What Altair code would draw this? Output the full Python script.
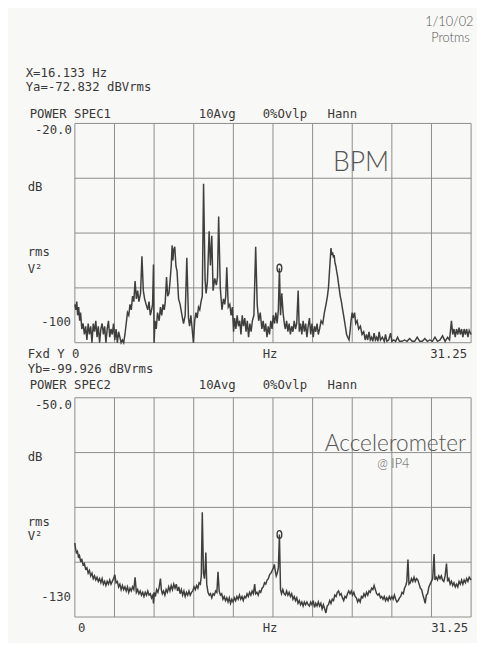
import altair as alt
import pandas as pd

# ---------------- data ----------------
# Top trace: BPM power spectrum (Hz, dBVrms)
bpm_trace = [
    (0.00,-86),(0.08,-88),(0.15,-85),(0.22,-90),(0.30,-87),(0.38,-92),(0.45,-89),(0.55,-95),
    (0.65,-93),(0.75,-97),(0.85,-94),(0.95,-99),(1.05,-93),(1.15,-97),(1.25,-94),(1.35,-100),
    (1.45,-93),(1.55,-96),(1.65,-92),(1.75,-98),(1.85,-94),(1.95,-100),(2.05,-95),(2.15,-93),
    (2.25,-97),(2.35,-94),(2.45,-100),(2.55,-95),(2.65,-92),(2.75,-98),(2.85,-95),(2.95,-97),
    (3.05,-93),(3.15,-99),(3.25,-95),(3.35,-100),(3.45,-96),(3.55,-98),(3.65,-100),(3.75,-99),
    (3.85,-100),(3.95,-97),(4.05,-93),(4.15,-89),(4.25,-90),(4.35,-86),(4.45,-88),(4.55,-83),
    (4.65,-85),(4.75,-77.5),(4.85,-84),(4.95,-81),(5.05,-85),(5.18,-82),(5.29,-68.5),(5.40,-81),
    (5.50,-84),(5.62,-86),(5.75,-88),(5.85,-85),(5.95,-90),(6.05,-88),(6.13,-86),(6.20,-71.5),
    (6.25,-100),(6.32,-92),(6.42,-95),(6.52,-89),(6.65,-92),(6.75,-87),(6.85,-90),(6.95,-86),
    (7.05,-88),(7.13,-85),(7.23,-76),(7.32,-83),(7.42,-82),(7.50,-78),(7.60,-72),(7.67,-64.5),
    (7.73,-70),(7.80,-66),(7.88,-65),(7.97,-72),(8.06,-74),(8.18,-84),(8.30,-86),(8.45,-90),
    (8.57,-93),(8.70,-90),(8.83,-69),(8.96,-91),(9.05,-94),(9.15,-90),(9.25,-95),(9.35,-100),
    (9.45,-92),(9.55,-89),(9.65,-91),(9.75,-87),(9.85,-88),(9.95,-85),(10.05,-83),(10.15,-42),
    (10.27,-77),(10.35,-82),(10.45,-78),(10.59,-59.3),(10.69,-71.8),(10.80,-61),(10.90,-81),
    (11.03,-76.5),(11.16,-79),(11.25,-76),(11.34,-54),(11.47,-80),(11.60,-88),(11.72,-84),
    (11.82,-86),(11.90,-83),(11.98,-72.5),(12.10,-87),(12.22,-86),(12.32,-90),(12.42,-87),
    (12.52,-96),(12.60,-91),(12.70,-95),(12.80,-90),(12.90,-94),(13.00,-92),(13.10,-97),
    (13.20,-90),(13.30,-94),(13.40,-91),(13.50,-96),(13.60,-92),(13.70,-98),(13.80,-93),
    (13.90,-96),(14.00,-92),(14.12,-90),(14.26,-65),(14.38,-86),(14.50,-92),(14.62,-89),
    (14.75,-95),(14.85,-92),(14.95,-96),(15.05,-93),(15.15,-98),(15.25,-94),(15.35,-97),
    (15.45,-92),(15.55,-95),(15.65,-90),(15.75,-93),(15.85,-89),(15.95,-93),(16.05,-88),
    (16.133,-72.8),(16.22,-90),(16.32,-82),(16.42,-89),(16.52,-93),(16.60,-95),(16.70,-92),
    (16.80,-96),(16.90,-93),(17.00,-97),(17.10,-94),(17.20,-96),(17.30,-92),(17.40,-95),
    (17.50,-93),(17.61,-81),(17.70,-96),(17.80,-93),(17.90,-97),(18.00,-92),(18.10,-96),
    (18.20,-93),(18.30,-98),(18.40,-94),(18.50,-91),(18.60,-97),(18.70,-93),(18.80,-98),
    (18.90,-94),(19.00,-96),(19.10,-93),(19.20,-97),(19.30,-95),(19.42,-92),(19.55,-93),
    (19.68,-89),(19.81,-86),(19.92,-83),(20.00,-80),(20.08,-74),(20.15,-69),(20.20,-65.5),
    (20.27,-68),(20.33,-67),(20.40,-69),(20.45,-68),(20.52,-71),(20.58,-72),(20.65,-74),
    (20.71,-75.5),(20.78,-78),(20.84,-80),(20.93,-83),(21.02,-85),(21.12,-88),(21.23,-91),
    (21.33,-94),(21.43,-97),(21.52,-98),(21.62,-99),(21.70,-96),(21.78,-92),(21.87,-89),
    (21.95,-91),(22.06,-89),(22.15,-93),(22.26,-92),(22.38,-95),(22.52,-94),(22.65,-97),
    (22.78,-96),(22.90,-99),(23.00,-97),(23.10,-99),(23.20,-96),(23.30,-99),(23.40,-98),
    (23.50,-99.5),(23.60,-96.5),(23.70,-99),(23.80,-98),(23.90,-99.5),(24.00,-96),(24.10,-99),
    (24.25,-98),(24.40,-99.5),(24.50,-97),(24.60,-99.5),(24.75,-99),(24.90,-96.5),(25.00,-99.5),
    (25.15,-99),(25.30,-99.5),(25.45,-98),(25.60,-99.5),(25.80,-99.5),(26.00,-99),(26.20,-99.5),
    (26.40,-98.5),(26.60,-99.5),(26.80,-99.5),(27.00,-98),(27.20,-99.5),(27.40,-99.5),
    (27.60,-98.5),(27.80,-99.5),(28.00,-99),(28.20,-99.5),(28.40,-98),(28.60,-99.5),(28.80,-99),
    (29.00,-97.5),(29.20,-99.5),(29.40,-98),(29.55,-99),(29.70,-92),(29.80,-97),(29.90,-95),
    (30.00,-98),(30.10,-95),(30.20,-97),(30.30,-94.5),(30.40,-97),(30.50,-95),(30.60,-98),
    (30.70,-95),(30.80,-97),(30.90,-95),(31.00,-98),(31.10,-95.5),(31.25,-97),
]

# Bottom trace: accelerometer power spectrum (Hz, dBVrms)
acc_trace = [
    (0.00,-103),(0.05,-105),(0.12,-106.5),(0.20,-106),(0.28,-108),(0.36,-107.5),(0.45,-109.5),
    (0.55,-109),(0.65,-111),(0.75,-110.5),(0.85,-112.5),(0.95,-112),(1.05,-114),(1.15,-113),
    (1.25,-115),(1.35,-114),(1.45,-116),(1.55,-115),(1.65,-116.5),(1.75,-115.5),(1.85,-117),
    (1.95,-116),(2.05,-117.5),(2.15,-116),(2.25,-118),(2.35,-117),(2.45,-118.5),(2.55,-117),
    (2.65,-118),(2.75,-116.5),(2.85,-118),(2.95,-117),(3.05,-116),(3.15,-114.5),(3.25,-117.5),
    (3.35,-117),(3.45,-119),(3.55,-118),(3.65,-120),(3.75,-118.5),(3.85,-120),(3.95,-119),
    (4.05,-120.5),(4.15,-119),(4.25,-121),(4.35,-119.5),(4.45,-120.5),(4.55,-119),(4.65,-120),
    (4.75,-115.5),(4.85,-121),(4.95,-120),(5.05,-121.5),(5.15,-120.5),(5.25,-122),(5.35,-121),
    (5.45,-122.5),(5.55,-121),(5.65,-122),(5.75,-120.5),(5.85,-122),(5.95,-121.5),(6.05,-123),
    (6.15,-122),(6.20,-125),(6.27,-121),(6.35,-122.5),(6.45,-120),(6.55,-121),(6.65,-119),
    (6.75,-116),(6.82,-120),(6.90,-121.5),(7.00,-120.5),(7.10,-122),(7.20,-120),(7.30,-121),
    (7.40,-119),(7.50,-120.5),(7.60,-118.5),(7.70,-120),(7.80,-118),(7.90,-119.5),(8.00,-118),
    (8.10,-120.5),(8.20,-119),(8.30,-121.5),(8.40,-120),(8.50,-122),(8.60,-120.5),(8.70,-122.5),
    (8.80,-121),(8.90,-122),(9.00,-120.5),(9.10,-122),(9.20,-121),(9.30,-120.5),(9.40,-119),
    (9.50,-120),(9.60,-118.5),(9.70,-119.5),(9.80,-117.5),(9.90,-118),(9.97,-115),(10.05,-91.8),
    (10.14,-114),(10.22,-116),(10.28,-112),(10.33,-106.5),(10.40,-118),(10.50,-121),(10.60,-122),
    (10.70,-121.5),(10.80,-123),(10.90,-121.5),(11.00,-122),(11.10,-120.5),(11.20,-121),
    (11.29,-113.5),(11.38,-120.5),(11.48,-122),(11.58,-121.5),(11.68,-123.5),(11.78,-122.5),
    (11.88,-124),(11.98,-123),(12.08,-124.5),(12.18,-123),(12.28,-125),(12.38,-123.5),
    (12.48,-124.5),(12.58,-123),(12.68,-124),(12.78,-122.5),(12.88,-123.5),(12.98,-122),
    (13.08,-123.5),(13.18,-122.5),(13.28,-124),(13.38,-122.5),(13.48,-123),(13.58,-121.5),
    (13.68,-122.5),(13.78,-121),(13.88,-122),(13.98,-120.5),(14.08,-121.5),(14.18,-118),
    (14.26,-121.5),(14.36,-121),(14.46,-122),(14.56,-120.5),(14.66,-121),(14.76,-119.5),
    (14.86,-119),(14.96,-117.5),(15.06,-118),(15.16,-116.5),(15.26,-116),(15.36,-114.5),
    (15.46,-114),(15.56,-113),(15.66,-112),(15.73,-110.8),(15.80,-113),(15.88,-115),
    (15.96,-114),(16.05,-112),(16.133,-99.9),(16.22,-120),(16.30,-121.5),(16.40,-120),
    (16.50,-121.5),(16.60,-122),(16.70,-120.5),(16.80,-122),(16.90,-121),(17.00,-122.5),
    (17.10,-121.5),(17.20,-123.5),(17.30,-122.5),(17.40,-124),(17.50,-123),(17.60,-125),
    (17.70,-124),(17.80,-125.5),(17.90,-124.5),(18.00,-126),(18.10,-124.5),(18.20,-125.5),
    (18.30,-124.5),(18.40,-125.5),(18.50,-126),(18.60,-124.5),(18.70,-125.5),(18.80,-124),
    (18.90,-126.5),(19.00,-125),(19.10,-126),(19.20,-124.5),(19.30,-126),(19.40,-125),
    (19.50,-127),(19.60,-125.5),(19.70,-127),(19.80,-128.5),(19.90,-126),(20.00,-125.5),
    (20.10,-124),(20.20,-125),(20.30,-123.5),(20.40,-124),(20.50,-122),(20.60,-122.5),
    (20.70,-121),(20.80,-120.5),(20.90,-122),(21.00,-121.5),(21.10,-123),(21.20,-124),
    (21.30,-122.5),(21.40,-123),(21.50,-121.5),(21.60,-120.5),(21.70,-121.5),(21.80,-120.5),
    (21.90,-122),(22.00,-121),(22.10,-122.5),(22.20,-123),(22.30,-124.5),(22.40,-123.5),
    (22.50,-124.5),(22.60,-122.5),(22.70,-123),(22.80,-121.5),(22.90,-122.5),(23.00,-121),
    (23.10,-122),(23.20,-120.5),(23.30,-121),(23.40,-119.5),(23.50,-120),(23.60,-118.5),
    (23.70,-120),(23.80,-121.5),(23.90,-122),(24.00,-121.5),(24.10,-123),(24.20,-122.5),
    (24.30,-123.5),(24.40,-122.5),(24.50,-124),(24.60,-123),(24.70,-124),(24.80,-122.5),
    (24.90,-123.5),(25.00,-122.5),(25.10,-123.5),(25.20,-122),(25.30,-123.5),(25.40,-124.5),
    (25.50,-124),(25.60,-123),(25.70,-122.5),(25.80,-121),(25.90,-121.5),(26.00,-119.5),
    (26.10,-118.5),(26.18,-117),(26.27,-109),(26.35,-118),(26.45,-117.5),(26.55,-116),
    (26.65,-117),(26.75,-115.5),(26.85,-117),(26.95,-116),(27.05,-116.5),(27.15,-118),
    (27.25,-119.5),(27.35,-120),(27.45,-122),(27.55,-123.5),(27.63,-125),(27.72,-122),
    (27.82,-121.5),(27.92,-119),(28.02,-118),(28.12,-117),(28.22,-116),(28.33,-107),
    (28.40,-116.5),(28.50,-115.5),(28.60,-116.5),(28.70,-115),(28.80,-116),(28.90,-115),
    (29.00,-116.5),(29.10,-117),(29.20,-115),(29.31,-110.5),(29.40,-117),(29.50,-116),
    (29.60,-118),(29.70,-117),(29.80,-118.5),(29.90,-117.5),(30.00,-119),(30.10,-118),
    (30.20,-119),(30.30,-117),(30.40,-118),(30.50,-116.5),(30.60,-118),(30.70,-116.5),
    (30.80,-117.5),(30.90,-116),(31.00,-117),(31.10,-115.5),(31.25,-116.5),
]

grid_hz = [0, 3.125, 6.25, 9.375, 12.5, 15.625, 18.75, 21.875, 25.0, 28.125, 31.25]
grid_db_top = [-20, -40, -60, -80, -100]
grid_db_bot = [-50, -70, -90, -110, -130]
marker_hz = 16.133
marker_top_db = -72.832
marker_bot_db = -99.926

# printed annotations (text, Hz, dB) placed through the panel scales
top_left_text = [
    ("X=16.133 Hz", -3.877, -1.60), ("Ya=-72.832 dBVrms", -3.877, -6.73),
    ("POWER SPEC1", -3.567, -16.55), ("10Avg", 9.770, -16.55),
    ("0%Ovlp", 14.811, -16.55), ("Hann", 19.929, -16.55),
    ("dB", -3.722, -43.32), ("rms", -3.722, -66.99), ("V²", -3.722, -73.09),
    ("Fxd Y 0", -3.722, -104.30), ("Hz", 14.811, -104.30),
]
top_right_text = [("-20.0", -0.233, -22.3), ("-100", -0.310, -92.36), ("31.25", 30.94, -104.30)]
bot_left_text = [
    ("Yb=-99.926 dBVrms", -3.722, -39.60), ("POWER SPEC2", -3.567, -45.30),
    ("10Avg", 9.770, -45.30), ("0%Ovlp", 14.811, -45.30), ("Hann", 19.929, -45.30),
    ("dB", -3.722, -71.52), ("rms", -3.722, -95.20), ("V²", -3.722, -100.58),
    ("Hz", 14.811, -133.95),
]
bot_right_text = [("-50.0", -0.233, -52.6), ("-130", -0.310, -122.83), ("31.25", 31.02, -133.95)]
bot_center_text = [("0", 0.543, -133.95)]
# handwritten notes (text, Hz, dB, size)
top_hand = [("1/10/02", 29.54, 16.95, 13), ("Protms", 29.62, 11.21, 13), ("BPM", 22.565, -34.35, 27)]
bot_hand = [("Accelerometer", 25.28, -66.86, 23), ("@ IP4", 25.12, -74.04, 13)]

# ---------------- chart ----------------
INK = "#383838"
GRID = "#8c8c8c"
PEN = "#555555"
MONO = "DejaVu Sans Mono"

xs = alt.Scale(domain=[0, 31.25], nice=False, zero=False)
ys_top = alt.Scale(domain=[-100, -20], range=[223, 0], nice=False, zero=False)
ys_bot = alt.Scale(domain=[-130, -50], range=[502, 279], nice=False, zero=False)


def panel(trace, grid_db, ys, mk_db, left_t, right_t, center_t, hand_t):
    X = lambda f: alt.X(f, type="quantitative", scale=xs, axis=None)
    Y = lambda f: alt.Y(f, type="quantitative", scale=ys, axis=None)
    vgrid = pd.DataFrame({"hz": grid_hz, "y1": grid_db[0], "y2": grid_db[-1]})
    hgrid = pd.DataFrame({"db": grid_db, "x1": grid_hz[0], "x2": grid_hz[-1]})
    tr = pd.DataFrame(trace, columns=["hz", "db"])
    layers = [
        alt.Chart(vgrid).mark_rule(color=GRID, strokeWidth=1).encode(
            x=X("hz"), y=Y("y1"), y2="y2"),
        alt.Chart(hgrid).mark_rule(color=GRID, strokeWidth=1).encode(
            y=Y("db"), x=X("x1"), x2="x2"),
        alt.Chart(tr).mark_line(color="#3f3f3f", strokeWidth=1.5, interpolate="linear").encode(
            x=X("hz"), y=Y("db")),
        alt.Chart(pd.DataFrame({"hz": [marker_hz], "db": [mk_db]})).mark_point(
            shape="M0,-1A0.6,1,0,1,1,0,1A0.6,1,0,1,1,0,-1Z", size=64, filled=False,
            color="#3a3a3a", strokeWidth=1.4, opacity=1).encode(x=X("hz"), y=Y("db")),
    ]
    for rows, align in ((left_t, "left"), (right_t, "right"), (center_t, "center")):
        if rows:
            df = pd.DataFrame(rows, columns=["t", "hz", "db"])
            layers.append(alt.Chart(df).mark_text(
                align=align, baseline="middle", font=MONO, fontSize=12.5, color=INK).encode(
                x=X("hz"), y=Y("db"), text="t:N"))
    for t, hz, db, sz in hand_t:
        df = pd.DataFrame({"t": [t], "hz": [hz], "db": [db]})
        layers.append(alt.Chart(df).mark_text(
            align="center", baseline="middle", font="Lato", fontWeight=300,
            fontSize=sz, color=PEN).encode(x=X("hz"), y=Y("db"), text="t:N"))
    return alt.layer(*layers)


top = panel(bpm_trace, grid_db_top, ys_top, marker_top_db,
            top_left_text, top_right_text, [], top_hand)
bot = panel(acc_trace, grid_db_bot, ys_bot, marker_bot_db,
            bot_left_text, bot_right_text, bot_center_text, bot_hand)

chart = alt.layer(top, bot).resolve_scale(y="independent").properties(
    width=403, height=502,
    padding={"left": 68, "top": 112, "right": 6, "bottom": 21},
    autosize=alt.AutoSizeParams(type="none"),
    background="#f8f8f6",
).configure_view(stroke=None)

chart.save("out.html", embed_options={"renderer": "svg", "actions": False})
